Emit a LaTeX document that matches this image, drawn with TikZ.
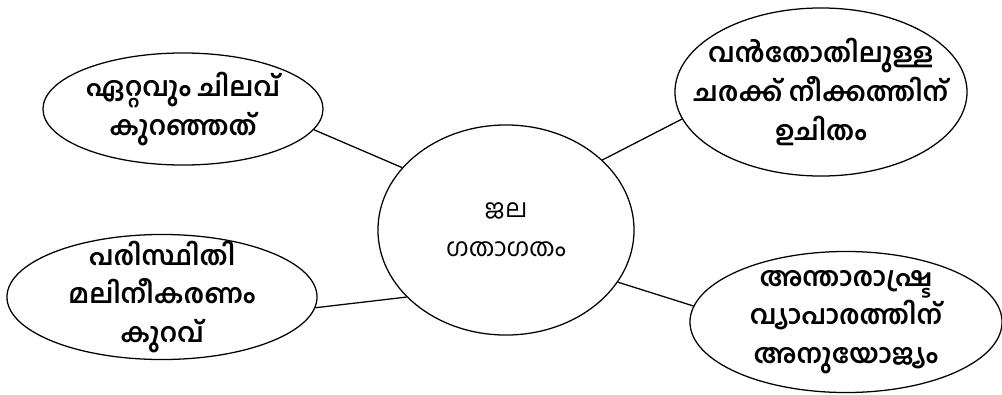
\documentclass[tikz,border=0pt]{standalone}
\usepackage{fontspec}
\newfontfamily\mlfont[Script=Malayalam]{Hind Kochi}
\usetikzlibrary{shapes.geometric}
\tikzset{
  bubble/.style={ellipse, draw, line width=0.9pt, inner sep=0pt},
  words/.style={align=center, inner sep=0pt,
    font=\mlfont\bfseries\fontsize{19}{27.5}\selectfont},
  link/.style={line width=0.9pt}
}
\begin{document}
\begin{tikzpicture}[x=0.025cm, y=-0.025cm]
\useasboundingbox (0,0) rectangle (1002,395);
\node [bubble, minimum width=6.4cm, minimum height=5.25cm] (jala) at (506,230) {};
\node [bubble, minimum width=7cm, minimum height=2.8cm] (cheap) at (183,109) {};
\node [bubble, minimum width=7.3cm, minimum height=4.2cm] (bulk) at (821,92) {};
\node [bubble, minimum width=7.75cm, minimum height=3.125cm] (green) at (162,297) {};
\node [bubble, minimum width=7.8cm, minimum height=3.525cm] (trade) at (846,322) {};
\node [words, font=\mlfont\fontsize{18}{27.5}\selectfont] (jalatext) at (jala) {ജല\\ഗതാഗതം};
\node [words] (cheaptext) at (cheap) {ഏറ്റവും ചിലവ്\\കുറഞ്ഞത്};
\node [words] (bulktext) at (bulk) {വൻതോതിലുള്ള\\ചരക്ക് നീക്കത്തിന്\\ഉചിതം};
\node [words] (greentext) at (green) {പരിസ്ഥിതി\\മലിനീകരണം\\കുറവ്};
\node [words] (tradetext) at (trade) {അന്താരാഷ്ട്ര\\വ്യാപാരത്തിന്\\അനുയോജ്യം};
%connectors
\draw [link] (jala.149) -- (cheap.-9);
\draw [link] (jala.36) -- (bulk.191);
\draw [link] (jala.214) -- (green.-4);
\draw [link] (jala.-25) -- (trade.174);
\end{tikzpicture}
\end{document}
